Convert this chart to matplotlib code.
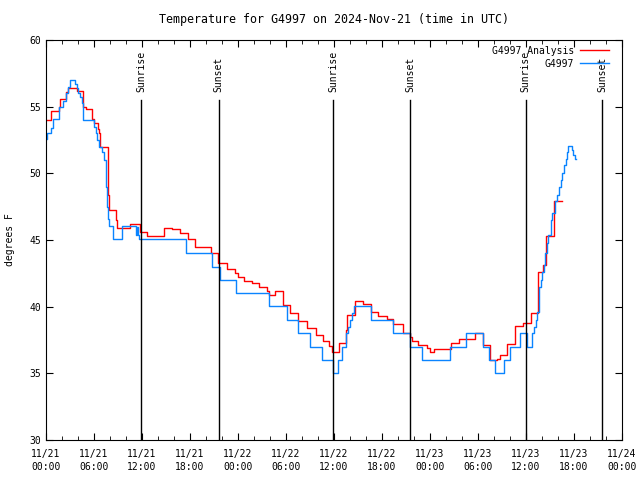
import numpy as np
import matplotlib
matplotlib.use('Agg')
import matplotlib.pyplot as plt

plt.rcParams['font.family'] = 'DejaVu Sans Mono'
plt.rcParams['font.size'] = 7

# hours since 2024-11-21 00:00 UTC, temperature (F)
analysis_hours = [0.0, 0.6, 1.6, 1.75, 2.45, 2.7, 3.85, 4.65, 4.95, 5.7, 6.0, 6.5, 6.6,
                  6.75, 6.8, 7.7, 7.9, 8.75, 8.9, 10.5, 11.75, 12.6, 14.75, 15.7, 16.75,
                  17.8, 18.6, 20.6, 21.55, 22.6, 23.6, 24.05, 24.75, 25.7, 26.65, 27.6,
                  27.9, 28.6, 29.6, 30.5, 31.55, 32.65, 33.75, 34.65, 35.4, 35.8, 36.65,
                  37.5, 37.65, 38.6, 39.6, 40.6, 41.55, 42.6, 43.4, 44.6, 45.55, 45.7,
                  46.55, 47.65, 48.0, 48.55, 49.6, 50.6, 51.65, 53.6, 54.6, 55.5, 56.4,
                  56.75, 57.65, 58.6, 59.6, 60.6, 61.55, 62.1, 62.5, 63.5, 64.55]
analysis_temps = [54.0, 54.7, 55.0, 55.6, 56.1, 56.4, 56.2, 55.0, 54.8, 54.05, 53.8, 53.3, 53.0,
                  52.4, 51.95, 48.4, 47.25, 46.5, 45.9, 46.2, 45.6, 45.3, 45.9, 45.8, 45.5,
                  45.05, 44.5, 44.0, 43.25, 42.8, 42.5, 42.2, 41.9, 41.75, 41.5, 41.2,
                  40.9, 41.2, 40.1, 39.5, 38.9, 38.4, 37.9, 37.4, 37.05, 36.6, 37.25,
                  38.25, 39.4, 40.45, 40.2, 39.6, 39.3, 39.05, 38.7, 38.05, 37.75, 37.4,
                  37.1, 36.9, 36.6, 36.8, 36.85, 37.25, 37.55, 38.05, 37.1, 36.0, 36.1,
                  36.4, 37.2, 38.55, 38.8, 39.55, 42.6, 43.1, 45.3, 47.9, 47.9]

obs_hours = [0.0, 0.15, 0.6, 0.9, 1.6, 2.1, 2.45, 2.75, 3.0, 3.65, 3.85, 4.05, 4.25, 4.45,
             4.6, 4.65, 6.0, 6.2, 6.4, 6.65, 6.95, 7.25, 7.45, 7.6, 7.7, 7.9, 8.4, 9.45,
             11.25, 11.4, 11.5, 11.6, 17.45, 20.7, 21.7, 23.8, 27.9, 30.15, 31.5, 33.0,
             34.45, 35.9, 36.55, 36.95, 37.5, 37.8, 38.0, 38.25, 38.5, 40.6, 43.35, 45.5,
             46.95, 50.5, 52.5, 54.6, 55.4, 56.1, 57.2, 58.0, 59.3, 60.1, 60.8, 61.05,
             61.2, 61.4, 61.65, 61.85, 62.05, 62.25, 62.4, 62.6, 62.8, 63.1, 63.3, 63.6,
             63.9, 64.1, 64.35, 64.5, 64.7, 64.95, 65.15, 65.3, 65.7, 65.85, 66.1, 66.25]
obs_temps = [52.6, 53.0, 53.4, 54.05, 55.0, 55.4, 56.0, 56.5, 57.0, 56.7, 56.4, 56.05, 55.7, 55.25,
             54.6, 54.0, 53.5, 53.0, 52.5, 52.0, 51.6, 51.0, 49.0, 47.5, 46.6, 46.05, 45.05, 46.05,
             45.4, 46.0, 45.4, 45.05, 44.0, 43.0, 42.0, 41.0, 40.05, 39.0, 38.0, 37.0,
             36.0, 35.0, 36.0, 37.0, 38.0, 38.5, 39.0, 39.5, 40.05, 39.0, 38.0, 37.0,
             36.0, 37.0, 38.0, 37.0, 36.0, 35.0, 36.0, 37.0, 38.0, 37.0, 38.0, 38.5,
             39.0, 39.6, 41.5, 42.0, 42.6, 43.1, 44.0, 44.75, 45.4, 46.5, 47.0, 47.9,
             48.4, 49.0, 49.5, 50.05, 50.6, 51.1, 51.6, 52.05, 51.75, 51.4, 51.05, 51.05]

sun_hours = [11.9, 21.6, 35.9, 45.55, 59.95, 69.55]
sun_labels = ['Sunrise', 'Sunset', 'Sunrise', 'Sunset', 'Sunrise', 'Sunset']

tick_labels = ['11/21\n00:00', '11/21\n06:00', '11/21\n12:00', '11/21\n18:00',
               '11/22\n00:00', '11/22\n06:00', '11/22\n12:00', '11/22\n18:00',
               '11/23\n00:00', '11/23\n06:00', '11/23\n12:00', '11/23\n18:00',
               '11/24\n00:00']

fig = plt.figure(figsize=(6.4, 4.8), dpi=100)
ax = fig.add_axes([46/640, 40/480, 576/640, 400/480])

ax.plot(analysis_hours, analysis_temps, drawstyle='steps-post', color='#ff0000',
        lw=1.0, label='G4997 Analysis')
ax.plot(obs_hours, obs_temps, drawstyle='steps-post', color='#0a84ff',
        lw=1.0, label='G4997')

for h, lab in zip(sun_hours, sun_labels):
    ax.plot([h, h], [30, 55.5], color='black', lw=1.0)
    ax.text(h, 56.1, lab, rotation=90, ha='center', va='bottom')

ax.set_xlim(0, 72)
ax.set_ylim(30, 60)
ax.set_xticks(np.arange(0, 73, 6))
ax.set_xticklabels(tick_labels, linespacing=1.35)
ax.set_xticks(np.arange(0, 73, 2), minor=True)
ax.set_yticks(np.arange(30, 61, 5))
ax.tick_params(which='both', direction='in', top=True, right=True)
ax.tick_params(which='major', length=5)
ax.tick_params(which='minor', length=3)
ax.tick_params(axis='x', pad=6.5)

ax.set_ylabel('degrees F', labelpad=10)
ax.set_title('Temperature for G4997 on 2024-Nov-21 (time in UTC)', pad=12.5)

ax.legend(loc='upper right', bbox_to_anchor=(1 - 7/576, 1), frameon=False,
          markerfirst=False, handlelength=3.0, borderaxespad=0.2,
          labelspacing=0.3, handletextpad=0.6)

fig.savefig('out.png', dpi=100)
